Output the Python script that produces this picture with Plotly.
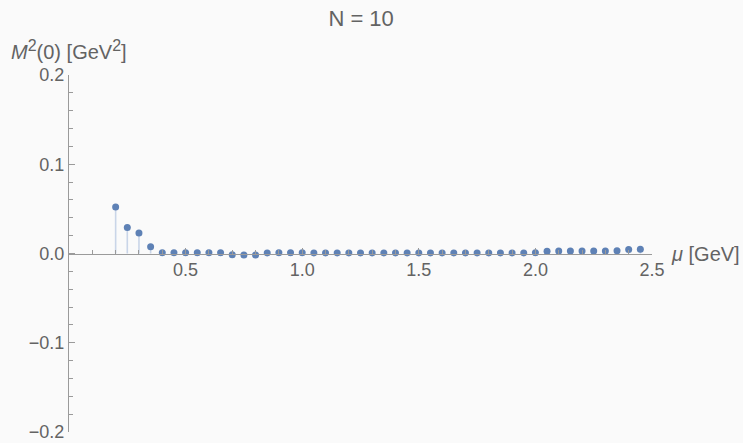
import plotly.graph_objects as go

# Renormalisation scale mu [GeV] and the corresponding M^2(0) [GeV^2] for N = 10
mu = [0.20, 0.25, 0.30, 0.35, 0.40, 0.45, 0.50, 0.55, 0.60, 0.65,
      0.70, 0.75, 0.80, 0.85, 0.90, 0.95, 1.00, 1.05, 1.10, 1.15,
      1.20, 1.25, 1.30, 1.35, 1.40, 1.45, 1.50, 1.55, 1.60, 1.65,
      1.70, 1.75, 1.80, 1.85, 1.90, 1.95, 2.00, 2.05, 2.10, 2.15,
      2.20, 2.25, 2.30, 2.35, 2.40, 2.45]
m2 = [0.0520, 0.0292, 0.0230, 0.0075, 0.0008, 0.0008, 0.0008, 0.0008, 0.0008, 0.0008,
      -0.0015, -0.0018, -0.0018, 0.0006, 0.0008, 0.0008, 0.0008, 0.0007, 0.0007, 0.0007,
      0.0007, 0.0007, 0.0007, 0.0007, 0.0007, 0.0007, 0.0007, 0.0007, 0.0007, 0.0007,
      0.0007, 0.0007, 0.0007, 0.0007, 0.0007, 0.0007, 0.0008, 0.0025, 0.0027, 0.0027,
      0.0028, 0.0028, 0.0028, 0.0030, 0.0045, 0.0048]

x_ticks = [0.5, 1.0, 1.5, 2.0, 2.5]
y_ticks = [-0.2, -0.1, 0.0, 0.1, 0.2]

POINT = "#5E81B5"
STEM = "#C9D5E8"
TEXT = "#636363"
AXIS = "#9a9a9a"
FONT = "Liberation Sans, Arial, sans-serif"

# stems from the axis to each point
sx, sy = [], []
for a, b in zip(mu, m2):
    sx += [a, a, None]
    sy += [0.0, b, None]

fig = go.Figure()
fig.add_trace(go.Scatter(x=sx, y=sy, mode="lines",
                         line=dict(color=STEM, width=1.6),
                         hoverinfo="skip", showlegend=False))
fig.add_trace(go.Scatter(x=mu, y=m2, mode="markers",
                         marker=dict(color=POINT, size=7),
                         showlegend=False, cliponaxis=False))

fig.update_layout(
    width=743, height=443,
    margin=dict(l=69, r=91, t=75, b=11, autoexpand=False),
    paper_bgcolor="#fafafa", plot_bgcolor="#fafafa",
    font=dict(family=FONT, color=TEXT, size=18),
    title=dict(text="N = 10", x=0.486, xanchor="center", y=0.958, yanchor="middle",
               font=dict(size=22, color=TEXT, family=FONT)),
    xaxis=dict(range=[0, 2.5], anchor="free", position=0.5, automargin=False,
               showgrid=False, zeroline=False,
               showline=True, linecolor=AXIS, linewidth=1,
               ticks="inside", ticklen=6, tickcolor=AXIS, tickwidth=1,
               tickvals=x_ticks, ticktext=[f"{v:.1f}" for v in x_ticks],
               tickfont=dict(size=18, color=TEXT),
               minor=dict(dtick=0.1, tick0=0, ticks="inside", ticklen=4,
                          tickcolor=AXIS, showgrid=False)),
    yaxis=dict(range=[-0.2, 0.2], domain=[0, 1], automargin=False,
               showgrid=False, zeroline=False,
               showline=True, linecolor=AXIS, linewidth=1,
               ticks="inside", ticklen=6, tickcolor=AXIS, tickwidth=1,
               tickvals=y_ticks, ticktext=[f"{v:.1f}".replace("-", "\u2212") for v in y_ticks],
               tickfont=dict(size=18, color=TEXT),
               minor=dict(dtick=0.02, tick0=0, ticks="inside", ticklen=4,
                          tickcolor=AXIS, showgrid=False)),
)

# axis labels
fig.add_annotation(x=0, xref="paper", y=1, yref="paper", yshift=25,
                   xanchor="center", yanchor="middle", showarrow=False,
                   text="<i>M</i><sup><span style='font-size:16px'>2</span></sup>(0) [GeV<sup><span style='font-size:16px'>2</span></sup>]",
                   font=dict(size=20, color=TEXT, family=FONT))
fig.add_annotation(x=1, xref="paper", y=0.5, yref="paper", xshift=17,
                   xanchor="left", yanchor="middle", showarrow=False,
                   text="<i>\u03bc</i> [GeV]",
                   font=dict(size=20, color=TEXT, family=FONT))

fig.write_html("out.html")
